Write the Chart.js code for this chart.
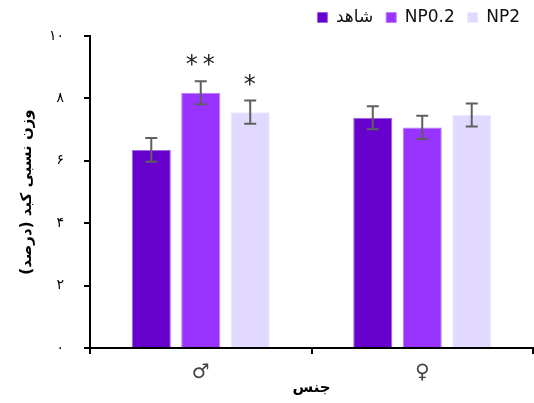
<html>
<head>
<title>وزن نسبی کبد</title>
<style>
  body { margin: 0; background: #fff; }
</style>
</head>
<body>
<canvas id="liver-chart" width="534" height="403"></canvas>
</body>
</html>
<script src="https://cdn.jsdelivr.net/npm/chart.js"></script>
<script>

    // data
    const categories = ["♂", "♀"]
    const seriesNames = ["شاهد", "NP0.2", "NP2"]
    const control = [6.35, 7.38]
    const np02 = [8.18, 7.07]
    const np2 = [7.56, 7.47]
    const controlErr = [0.38, 0.37]
    const np02Err = [0.37, 0.37]
    const np2Err = [0.37, 0.37]
    const stars = [["", ""], ["**", ""], ["*", ""]]
    const yTicks = [0, 2, 4, 6, 8, 10]

    const colors = ["#6600cc", "#9933ff", "#e1d9ff"]
    const edges = ["#9a66e6", "#b97cff", "#eee9ff"]
    const persianFont = "'DejaVu Sans', sans-serif"

    function toPersian(n){
        return String(n).replace(/\d/g, d => "۰۱۲۳۴۵۶۷۸۹"[d])
    }

    const errorBars = {
        id: "errorBars",
        afterDatasetsDraw(chart){
            const c = chart.ctx
            const y = chart.scales.y
            const errs = [controlErr, np02Err, np2Err]
            c.save()
            chart.data.datasets.forEach((ds, i) => {
                const meta = chart.getDatasetMeta(i)
                meta.data.forEach((bar, j) => {
                    const v = ds.data[j]
                    const top = y.getPixelForValue(v + errs[i][j])
                    const bot = y.getPixelForValue(v - errs[i][j])
                    c.strokeStyle = "#5f5f5f"
                    c.lineWidth = 2
                    c.beginPath()
                    c.moveTo(bar.x, top); c.lineTo(bar.x, bot)
                    c.moveTo(bar.x - 6, top); c.lineTo(bar.x + 6, top)
                    c.moveTo(bar.x - 6, bot); c.lineTo(bar.x + 6, bot)
                    c.stroke()
                    if (stars[i][j]){
                        c.fillStyle = "#222"
                        c.font = "24px 'DejaVu Sans'"
                        c.letterSpacing = "5px"
                        c.textAlign = "center"
                        c.textBaseline = "alphabetic"
                        c.fillText(stars[i][j], bar.x + 2, top - 9)
                    }
                })
            })
            c.restore()
        }
    }

    const ctx = document.getElementById("liver-chart")

    new Chart(ctx, {
        type: "bar",
        data: {
            labels: categories,
            datasets: [
                { label: seriesNames[0], data: control, backgroundColor: colors[0], borderColor: edges[0], borderWidth: 1 },
                { label: seriesNames[1], data: np02, backgroundColor: colors[1], borderColor: edges[1], borderWidth: 1 },
                { label: seriesNames[2], data: np2, backgroundColor: colors[2], borderColor: edges[2], borderWidth: 1 }
            ]
        },
        options: {
            responsive: false,
            animation: false,
            devicePixelRatio: 1,
            layout: { padding: { left: 0, right: 1, top: -4, bottom: 0 } },
            datasets: { bar: { categoryPercentage: 0.67, barPercentage: 0.79 } },
            plugins: {
                tooltip: { enabled: false },
                legend: {
                    position: "top",
                    align: "end",
                    labels: {
                        boxWidth: 10,
                        boxHeight: 10,
                        padding: 13,
                        color: "#111",
                        font: { size: 17, family: persianFont }
                    }
                }
            },
            scales: {
                x: {
                    grid: { display: true, drawOnChartArea: false, tickLength: 6, color: "#000", lineWidth: 2 },
                    border: { color: "#000", width: 2 },
                    ticks: { color: "#444", font: { size: 20, family: persianFont }, padding: 7 },
                    title: { display: true, text: "جنس", color: "#000", font: { size: 15, weight: "bold", family: persianFont }, padding: { top: 0, bottom: 6 } },
                    afterFit(scale){ scale.height = 55 }
                },
                y: {
                    min: 0,
                    max: 10,
                    afterBuildTicks(scale){ scale.ticks = yTicks.map(v => ({ value: v })) },
                    grid: { display: true, drawOnChartArea: false, tickLength: 6, color: "#000", lineWidth: 2 },
                    border: { color: "#000", width: 2 },
                    ticks: { color: "#000", font: { size: 14, family: persianFont }, padding: 20, callback: v => toPersian(v) },
                    title: { display: true, text: "وزن نسبی کبد (درصد)", color: "#000", font: { size: 15, weight: "bold", family: persianFont }, padding: { top: 18, bottom: 4 } },
                    afterFit(scale){ scale.width = 90 }
                }
            }
        },
        plugins: [errorBars]
    })
</script>
